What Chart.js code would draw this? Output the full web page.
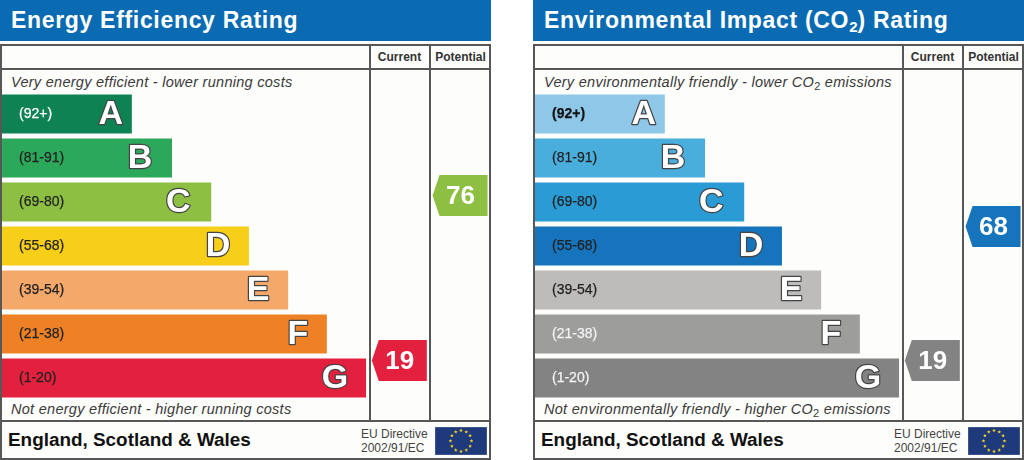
<!DOCTYPE html>
<html>
<head>
<meta charset="utf-8">
<script src="https://cdn.jsdelivr.net/npm/chart.js@4"></script>
<style>
html, body { margin: 0; padding: 0; background: #fff; overflow: hidden; }
body { width: 1024px; height: 460px; position: relative; font-family: "Liberation Sans", Arial, sans-serif; }
.panel { position: absolute; top: 0; width: 491px; height: 460px; background: #fdfdfb; }
.panel canvas { position: absolute; left: 0; top: 0; }
.head { position: absolute; left: 0; top: 0; width: 491px; height: 41px; background: #0a6bb2; color: #fff; font-weight: bold; font-size: 23px; line-height: 41px; text-indent: 11px; letter-spacing: 0.68px; white-space: nowrap; }
.head sub { font-size: 15px; line-height: 0; vertical-align: -4px; letter-spacing: 0; }
.line { position: absolute; background: #575757; }
.col { position: absolute; top: 50px; font-size: 12px; font-weight: bold; color: #333; text-align: center; }
.note { position: absolute; left: 11px; font-size: 14.5px; font-style: italic; color: #3a3a3a; white-space: nowrap; letter-spacing: 0.28px; line-height: 16px; }
.note sub { font-size: 11px; font-style: normal; line-height: 0; vertical-align: -3px; }
.region { position: absolute; left: 8px; top: 429px; font-size: 18.9px; font-weight: bold; color: #111; white-space: nowrap; line-height: 22px; }
.eu { position: absolute; left: 361px; top: 427px; font-size: 12px; line-height: 14px; color: #444; white-space: nowrap; }
.flag { position: absolute; left: 435px; top: 427px; }
</style>
</head>
<body>
<div class="panel" id="energy"></div>
<div class="panel" id="env" style="left:533px"></div>
<script>
const letters = ['A', 'B', 'C', 'D', 'E', 'F', 'G'];
const bandLabels = ['(92+)', '(81-91)', '(69-80)', '(55-68)', '(39-54)', '(21-38)', '(1-20)'];
const bandHigh = [100, 91, 80, 68, 54, 38, 20];
const bandLow = [92, 81, 69, 55, 39, 21, 1];
const barLengths = [26.7, 34.9, 42.9, 50.6, 58.6, 66.5, 74.5];
const energyColors = ['#0f8254', '#2ca85b', '#8dbf43', '#f7cf18', '#f4a96b', '#ee8126', '#e3203e'];
const envColors = ['#8ec7e8', '#4aaedd', '#2a9bd5', '#1574bb', '#bdbcba', '#9d9d9c', '#838383'];
const energyTickColors = ['#fff', '#222', '#222', '#222', '#222', '#222', '#222'];
const envTickColors = ['#111', '#222', '#222', '#222', '#222', '#f2f2f2', '#f2f2f2'];
const energyScores = [19, 76];
const envScores = [19, 68];
const scoreColumns = [86.9, 99.3];

// recul de chaque lettre depuis le bout de sa barre
const letterInset = [21, 32, 33, 31, 30, 29, 31];

function bandOf(score) {
    return bandLow.findIndex((low, i) => score >= low && score <= bandHigh[i]);
}

// lettre sur chaque barre + fleches Current / Potential
const ratingPlugin = {
    id: 'rating',
    afterDatasetsDraw(chart, args, opts) {
        const ctx = chart.ctx;
        const meta = chart.getDatasetMeta(0);
        ctx.save();
        ctx.textAlign = 'center';
        ctx.textBaseline = 'middle';
        meta.data.forEach((bar, i) => {
            const x = bar.x - letterInset[i];
            ctx.font = 'bold 34px "Liberation Sans"';
            ctx.lineWidth = 2.4;
            ctx.strokeStyle = '#444';
            ctx.lineJoin = 'round';
            ctx.strokeText(letters[i], x, bar.y + 1);
            ctx.fillStyle = '#fff';
            ctx.fillText(letters[i], x, bar.y + 1);
        });
        opts.scores.forEach((score, c) => {
            const b = bandOf(score);
            const bar = meta.data[b];
            const top = chart.scales.y.getPixelForValue(b) - bar.height / 2;
            const y = top + (bandHigh[b] - score) / (bandHigh[b] - bandLow[b] + 1) * bar.height;
            const right = chart.scales.x.getPixelForValue(scoreColumns[c]);
            ctx.fillStyle = opts.colors[b];
            ctx.beginPath();
            ctx.moveTo(right - 55, y);
            ctx.lineTo(right - 48, y - 20.5);
            ctx.lineTo(right, y - 20.5);
            ctx.lineTo(right, y + 20.5);
            ctx.lineTo(right - 48, y + 20.5);
            ctx.closePath();
            ctx.fill();
            ctx.fillStyle = '#fff';
            ctx.font = 'bold 26px "Liberation Sans"';
            ctx.fillText(String(score), right - 27, y + 1);
        });
        ctx.restore();
    }
};

function addLine(panel, x, y, w, h) {
    const d = document.createElement('div');
    d.className = 'line';
    d.style.cssText = `left:${x}px;top:${y}px;width:${w}px;height:${h}px`;
    panel.appendChild(d);
}

function flagSvg() {
    let stars = '';
    for (let i = 0; i < 12; i++) {
        const a = i * Math.PI / 6;
        const cx = 26 + 10.5 * Math.sin(a), cy = 14 - 10.5 * Math.cos(a);
        let pts = [];
        for (let k = 0; k < 10; k++) {
            const r = k % 2 ? 0.85 : 2;
            const t = k * Math.PI / 5;
            pts.push((cx + r * Math.sin(t)).toFixed(2) + ',' + (cy - r * Math.cos(t)).toFixed(2));
        }
        stars += `<polygon points="${pts.join(' ')}" fill="#f5d327"/>`;
    }
    return `<svg class="flag" width="52" height="28" viewBox="0 0 52 28"><rect x="0" y="0" width="52" height="28" fill="#1f3a7a" stroke="#8a94b0" stroke-width="0.6"/>${stars}</svg>`;
}

function makePanel(id, title, topNote, bottomNote, colors, tickColors, scores, boldFirstTick) {
    const panel = document.getElementById(id);
    panel.innerHTML = `<div class="head">${title}</div>
        <div class="col" style="left:370px;width:59px">Current</div>
        <div class="col" style="left:431px;width:59px">Potential</div>
        <div class="note" style="top:74px">${topNote}</div>
        <div class="note" style="top:401px">${bottomNote}</div>
        <div class="region">England, Scotland &amp; Wales</div>
        <div class="eu">EU Directive<br>2002/91/EC</div>` + flagSvg();
    const canvas = document.createElement('canvas');
    canvas.width = 491;
    canvas.height = 460;
    panel.appendChild(canvas);
    addLine(panel, 0, 44, 491, 2);
    addLine(panel, 0, 68, 491, 2);
    addLine(panel, 0, 420, 491, 2);
    addLine(panel, 0, 458, 491, 2);
    addLine(panel, 0, 44, 2, 416);
    addLine(panel, 489, 44, 2, 416);
    addLine(panel, 369, 44, 2, 376);
    addLine(panel, 429, 44, 2, 376);
    return new Chart(canvas, {
        type: 'bar',
        plugins: [ratingPlugin],
        data: {
            labels: bandLabels,
            datasets: [{
                data: barLengths,
                backgroundColor: colors,
                categoryPercentage: 1,
                barPercentage: 39 / 44,
            }]
        },
        options: {
            indexAxis: 'y',
            responsive: false,
            animation: false,
            layout: { padding: { left: 1, right: 0, top: 92, bottom: 60 } },
            plugins: {
                legend: { display: false },
                tooltip: { enabled: false },
                rating: { scores: scores, colors: colors },
            },
            scales: {
                x: { display: false, min: 0, max: 100 },
                y: {
                    grid: { display: false, drawTicks: false },
                    border: { display: false },
                    afterFit(scale) { scale.width = 0; },
                    ticks: {
                        z: 1,
                        mirror: true,
                        padding: 18,
                        font: (c) => ({
                            family: '"Liberation Sans"',
                            size: 14,
                            weight: boldFirstTick && c.index === 0 ? 'bold' : 'normal',
                        }),
                        color: (c) => tickColors[c.index],
                        textStrokeColor: (c) => tickColors[c.index],
                        textStrokeWidth: 0.25,
                    },
                },
            },
        },
    });
}

Chart.defaults.devicePixelRatio = 1;
makePanel('energy', 'Energy Efficiency Rating', 'Very energy efficient - lower running costs', 'Not energy efficient - higher running costs', energyColors, energyTickColors, energyScores, false);
makePanel('env', 'Environmental Impact (CO<sub>2</sub>) Rating', 'Very environmentally friendly - lower CO<sub>2</sub> emissions', 'Not environmentally friendly - higher CO<sub>2</sub> emissions', envColors, envTickColors, envScores, true);
</script>
</body>
</html>
